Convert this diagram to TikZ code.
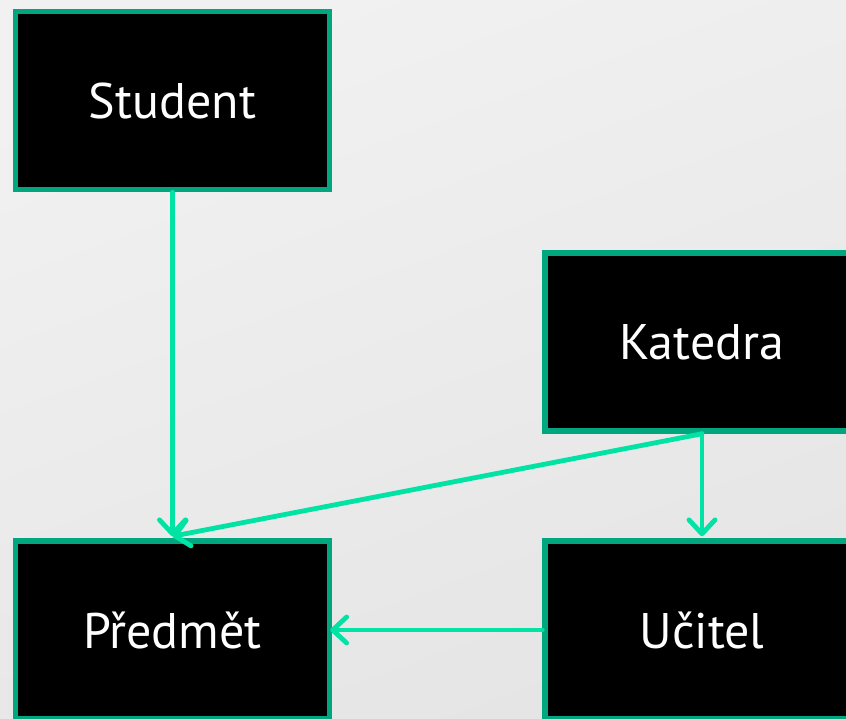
\documentclass[tikz,border=0pt]{standalone}
\usepackage{fontspec}
\setmainfont{PT Sans}
\usetikzlibrary{arrows.meta}
\definecolor{bordergreen}{HTML}{00A67E}
\definecolor{arrowgreen}{HTML}{00E3A4}
\definecolor{bgtop}{HTML}{F1F1F1}
\definecolor{bgbot}{HTML}{E5E5E5}
\tikzset{
  entity/.style={draw=bordergreen, line width=5.5pt, fill=black, text=white,
    minimum width=314pt, minimum height=178pt, inner sep=0pt,
    font=\fontsize{50}{58}\selectfont},
  link/.style={draw=arrowgreen, line width=4.8pt, line cap=round,
    -{Straight Barb[length=14pt,width=26pt,round]}}
}
\begin{document}
\begin{tikzpicture}[x=1pt,y=-1pt]
\useasboundingbox (0,0) rectangle (846,718);
\shade[top color=bgtop, bottom color=bgbot, shading angle=20] (0,0) rectangle (846,718);
\clip (0,0) rectangle (846,718);
\node[entity] (student) at (172.5,100.5) {Student};
\node[entity] (katedra) at (702,342) {Katedra};
\node[entity] (predmet) at (172.5,630) {Předmět};
\node[entity] (ucitel) at (702,630) {Učitel};
\draw[link] (student.south) -- ([yshift=2pt]predmet.north);
\draw[link] (katedra.south) -- ([yshift=2pt]predmet.north);
\draw[link] (katedra.south) -- ([yshift=2pt]ucitel.north);
\draw[link] (ucitel.west) -- ([xshift=-2pt]predmet.east);
\end{tikzpicture}
\end{document}
